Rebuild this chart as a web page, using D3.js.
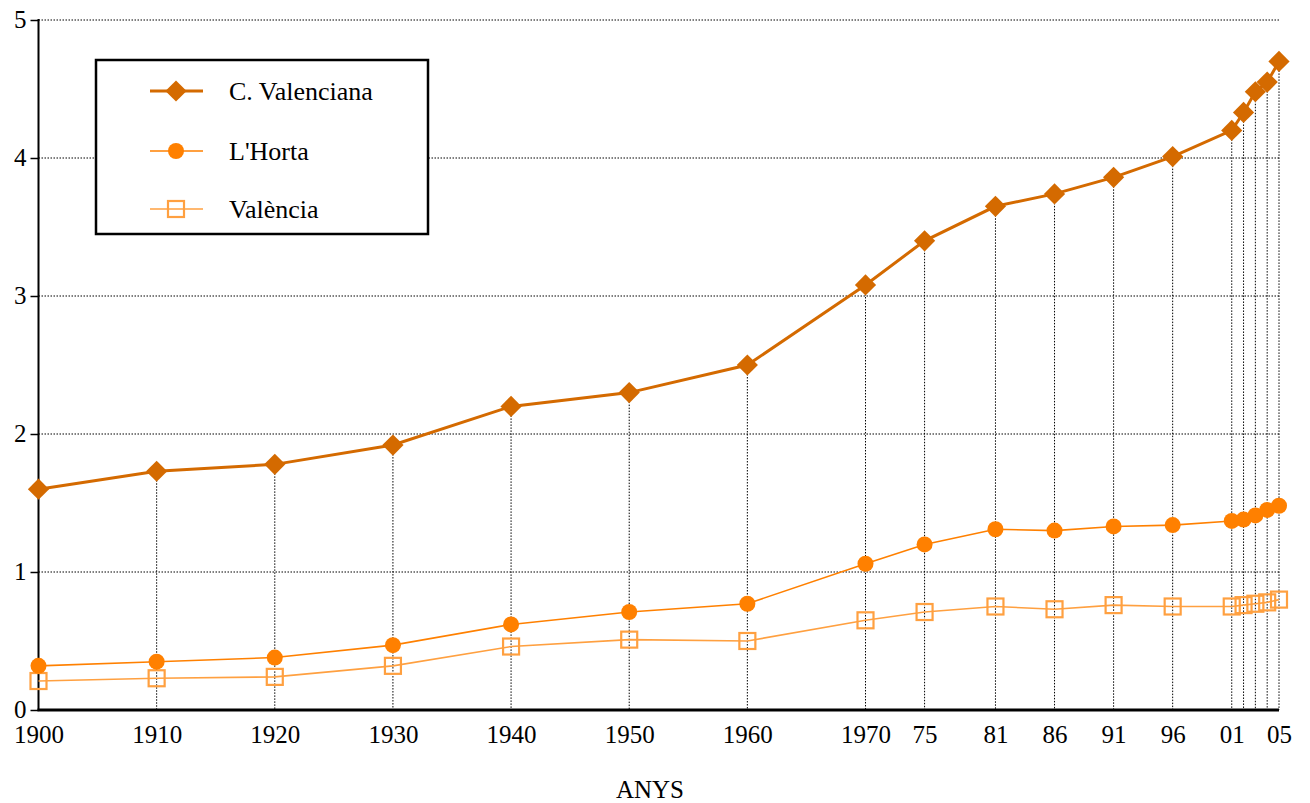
<!DOCTYPE html>
<html>
<head>
<meta charset="utf-8">
<script src="https://cdn.jsdelivr.net/npm/d3@7"></script>
<style>
  body { margin: 0; background: #fff; }
  svg { display: block; }
  svg text { font-family: "Liberation Serif", "Times New Roman", serif; }
</style>
</head>
<body>
<div id="chart"></div>
<script>
// data
var years = [1900, 1910, 1920, 1930, 1940, 1950, 1960, 1970, 1975, 1981, 1986, 1991, 1996, 2001, 2002, 2003, 2004, 2005];
var cValenciana = [1.60, 1.73, 1.78, 1.92, 2.20, 2.30, 2.50, 3.08, 3.40, 3.65, 3.74, 3.86, 4.01, 4.20, 4.33, 4.48, 4.55, 4.70];
var lHorta = [0.32, 0.35, 0.38, 0.47, 0.62, 0.71, 0.77, 1.06, 1.20, 1.31, 1.30, 1.33, 1.34, 1.37, 1.38, 1.41, 1.45, 1.48];
var valencia = [0.21, 0.23, 0.24, 0.32, 0.46, 0.51, 0.50, 0.65, 0.71, 0.75, 0.73, 0.76, 0.75, 0.75, 0.76, 0.77, 0.78, 0.80];
var xTickYears = [1900, 1910, 1920, 1930, 1940, 1950, 1960, 1970, 1975, 1981, 1986, 1991, 1996, 2001, 2005];
var xTickLabels = ["1900", "1910", "1920", "1930", "1940", "1950", "1960", "1970", "75", "81", "86", "91", "96", "01", "05"];
var yTicks = [0, 1, 2, 3, 4, 5];
var seriesNames = ["C. Valenciana", "L'Horta", "València"];

var W = 1310, H = 803;
var FONT = "Liberation Serif, Times New Roman, serif";

var svg = d3.select("#chart").append("svg")
  .attr("width", W)
  .attr("height", H)
  .attr("font-family", FONT);

var x = d3.scaleLinear().domain([1900, 2005]).range([38.5, 1279]);
var y = d3.scaleLinear().domain([0, 5]).range([710, 20]);

var series = [
  { name: seriesNames[0], values: cValenciana, color: "#d46a00", width: 3, symbol: "diamond" },
  { name: seriesNames[1], values: lHorta, color: "#ff8000", width: 1.6, symbol: "circle" },
  { name: seriesNames[2], values: valencia, color: "#ffa040", width: 1.6, symbol: "square" }
];

// horizontal grid
svg.append("g")
  .selectAll("line")
  .data(yTicks.filter(function(d) { return d > 0; }))
  .join("line")
    .attr("x1", x(1900)).attr("x2", x(2005))
    .attr("y1", function(d) { return y(d); })
    .attr("y2", function(d) { return y(d); })
    .attr("stroke", "#000")
    .attr("stroke-width", 1)
    .attr("stroke-dasharray", "1.5,1.5");

// drop lines from top series to axis
svg.append("g")
  .selectAll("line")
  .data(years.slice(1))
  .join("line")
    .attr("x1", function(d) { return x(d); })
    .attr("x2", function(d) { return x(d); })
    .attr("y1", function(d, i) { return y(cValenciana[i + 1]); })
    .attr("y2", y(0))
    .attr("stroke", "#000")
    .attr("stroke-width", 1)
    .attr("stroke-dasharray", "1.5,1.5");

// y axis
var yAxis = svg.append("g")
  .attr("transform", "translate(" + x(1900) + ",0)")
  .call(d3.axisLeft(y).tickValues(yTicks).tickSize(8).tickPadding(4).tickFormat(d3.format("d")));
yAxis.attr("font-family", FONT).attr("font-size", 25);
yAxis.select(".domain").remove();
yAxis.selectAll(".tick line").attr("stroke-width", 1.5);
yAxis.selectAll("text").attr("fill", "#000").attr("dy", "0.28em");
svg.append("line")
  .attr("x1", x(1900)).attr("x2", x(1900))
  .attr("y1", y(5) - 1).attr("y2", y(0))
  .attr("stroke", "#000").attr("stroke-width", 2);

// x axis
var xAxis = svg.append("g")
  .attr("transform", "translate(0," + y(0) + ")")
  .call(d3.axisBottom(x).tickValues(xTickYears).tickSize(0).tickPadding(15)
    .tickFormat(function(d) { return xTickLabels[xTickYears.indexOf(d)]; }));
xAxis.attr("font-family", FONT).attr("font-size", 25);
xAxis.select(".domain").remove();
xAxis.selectAll("text").attr("fill", "#000");
svg.append("line")
  .attr("x1", x(1900) - 1).attr("x2", x(2005))
  .attr("y1", y(0)).attr("y2", y(0))
  .attr("stroke", "#000").attr("stroke-width", 3);

svg.append("text")
  .attr("x", 650).attr("y", 798)
  .attr("text-anchor", "middle")
  .attr("font-size", 25)
  .text("ANYS");

// markers
function drawMarker(g, s, cx, cy) {
  if (s.symbol === "diamond") {
    g.append("path")
      .attr("d", d3.symbol().type(d3.symbolSquare).size(225)())
      .attr("transform", "translate(" + cx + "," + cy + ") rotate(45)")
      .attr("fill", s.color);
  } else if (s.symbol === "circle") {
    g.append("circle").attr("cx", cx).attr("cy", cy).attr("r", 8).attr("fill", s.color);
  } else {
    g.append("rect")
      .attr("x", cx - 8).attr("y", cy - 8)
      .attr("width", 16).attr("height", 16)
      .attr("fill", "none")
      .attr("stroke", s.color)
      .attr("stroke-width", 2.2);
  }
}

var line = d3.line()
  .x(function(d) { return x(d[0]); })
  .y(function(d) { return y(d[1]); });

series.slice().reverse().forEach(function(s) {
  var pts = years.map(function(yr, i) { return [yr, s.values[i]]; });
  var g = svg.append("g");
  g.append("path")
    .attr("d", line(pts))
    .attr("fill", "none")
    .attr("stroke", s.color)
    .attr("stroke-width", s.width);
  pts.forEach(function(p) { drawMarker(g, s, x(p[0]), y(p[1])); });
});

// legend
var legend = svg.append("g");
legend.append("rect")
  .attr("x", 96).attr("y", 60)
  .attr("width", 332).attr("height", 174)
  .attr("fill", "#fff")
  .attr("stroke", "#000")
  .attr("stroke-width", 2.5);

var rowY = [91, 151, 209];
series.forEach(function(s, i) {
  var g = legend.append("g");
  g.append("line")
    .attr("x1", 150).attr("x2", 203)
    .attr("y1", rowY[i]).attr("y2", rowY[i])
    .attr("stroke", s.color)
    .attr("stroke-width", s.width);
  drawMarker(g, s, 176, rowY[i]);
  g.append("text")
    .attr("x", 229).attr("y", rowY[i])
    .attr("dy", "0.33em")
    .attr("font-size", 26)
    .text(s.name);
});
</script>
</body>
</html>
